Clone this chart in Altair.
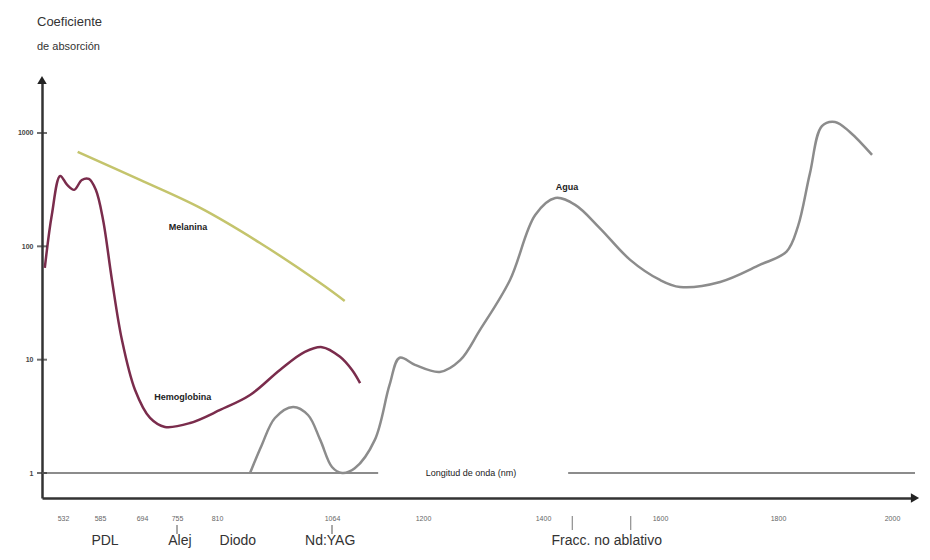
import altair as alt
import pandas as pd

# ---- data (wavelength in nm, absorption coefficient, log scale) ----
agua_nm = [883, 909, 938, 978, 1011, 1038, 1064, 1079, 1098, 1128, 1150, 1165, 1188, 1228, 1262,
           1295, 1345, 1387, 1421, 1455, 1497, 1549, 1600, 1634, 1702, 1769, 1815, 1835, 1856,
           1877, 1900, 1926, 1965]
agua_val = [1.0, 1.77, 3.06, 3.83, 3.25, 1.96, 1.13, 1.0, 1.1, 1.96, 5.98, 10.4, 9.0, 7.8, 9.9,
            18.3, 50.5, 189, 267, 232, 145, 76, 50.5, 43.8, 48.5, 68.5, 90, 150, 440,
            1150, 1253, 1022, 641]

hemo_nm = [506, 516, 528, 538, 548, 559, 569, 579, 593, 616, 642, 676, 708, 734, 773, 817, 883,
           949, 1004, 1042, 1076, 1094, 1106]
hemo_val = [64.5, 189, 418, 348, 315, 385, 393, 315, 171, 50.5, 14.9, 5.4, 3.06, 2.55, 2.76, 3.6,
            4.88, 8.11, 11.7, 12.9, 10.6, 8.1, 6.2]

mel_nm = [553, 689, 787, 905, 1038, 1083]
mel_val = [681, 385, 218, 107, 47.5, 33]

x_ticks = [532, 585, 694, 755, 810, 1064, 1200, 1400, 1600, 1800, 2000]
y_ticks = [1, 10, 100, 1000]

series_names = ["Agua", "Hemoglobina", "Melanina"]
series_colors = ["#8c8c8c", "#7a2c4c", "#c4c46c"]

curve_labels = ["Agua", "Melanina", "Hemoglobina"]
curve_label_nm = [1441, 770, 763]
curve_label_val = [334, 148, 4.69]

laser_names = ["PDL", "Alej", "Diodo", "Nd:YAG", "Fracc. no ablativo"]
laser_nm = [598, 759, 856, 1060, 1509]
laser_marks = [755, 1064]
fracc_marks = [1450, 1550]

base_segments_start = [502, 1443]
base_segments_end = [1133, 2040]
axis_label_text = "Longitud de onda (nm)"
axis_label_nm = 1280

x_domain = [502, 532, 585, 694, 755, 810, 1064, 1200, 1400, 1600, 1800, 2000, 2040]
x_range = [0, 21, 58, 100, 135, 175, 290, 381, 501, 618, 736, 850, 873]
y_domain = [0.602, 2935]

# ---- tables ----
rows = []
for nm, v in zip(agua_nm, agua_val):
    rows.append({"nm": nm, "v": v, "serie": "Agua"})
for nm, v in zip(hemo_nm, hemo_val):
    rows.append({"nm": nm, "v": v, "serie": "Hemoglobina"})
for nm, v in zip(mel_nm, mel_val):
    rows.append({"nm": nm, "v": v, "serie": "Melanina"})
curves = pd.DataFrame(rows)

xs = alt.Scale(type="linear", domain=x_domain, range=x_range, nice=False, zero=False)
ys = alt.Scale(type="log", domain=y_domain, nice=False)

X = alt.X("nm:Q", scale=xs, axis=alt.Axis(values=x_ticks, format="d", ticks=False, grid=False,
                                          labelFontSize=7, labelColor="#666", labelPadding=16,
                                          domainColor="#333", domainWidth=2.5, title=None,
                                          labelFont="Liberation Sans"))
Y = alt.Y("v:Q", scale=ys, axis=alt.Axis(values=y_ticks, format="d", ticks=False, grid=False,
                                         labelFontSize=7, labelColor="#444", labelPadding=9,
                                         domainColor="#333", domainWidth=2.5, title=None,
                                         labelFont="Liberation Sans", labelFontWeight="bold"))

base_df = pd.DataFrame({"nm": base_segments_start, "nm2": base_segments_end, "v": [1, 1]})
baseline = alt.Chart(base_df).mark_rule(color="#8c8c8c", strokeWidth=2).encode(
    x=alt.X("nm:Q", scale=xs), x2="nm2:Q", y=alt.Y("v:Q", scale=ys))

lines = alt.Chart(curves).mark_line(interpolate="catmull-rom", strokeWidth=2.5).encode(
    x=X, y=Y,
    color=alt.Color("serie:N", scale=alt.Scale(domain=series_names, range=series_colors), legend=None),
    detail="serie:N")

lab_df = pd.DataFrame({"nm": curve_label_nm, "v": curve_label_val, "t": curve_labels})
labs = alt.Chart(lab_df).mark_text(fontSize=9, color="#222", font="Liberation Sans",
                                   fontWeight="bold").encode(
    x=alt.X("nm:Q", scale=xs), y=alt.Y("v:Q", scale=ys), text="t:N")

axl_df = pd.DataFrame({"nm": [axis_label_nm], "v": [1], "t": [axis_label_text]})
axl = alt.Chart(axl_df).mark_text(fontSize=9, color="#222", font="Liberation Sans").encode(
    x=alt.X("nm:Q", scale=xs), y=alt.Y("v:Q", scale=ys), text="t:N")

yt_df = pd.DataFrame({"nm": [x_domain[0]] * len(y_ticks), "v": y_ticks})
yticks = alt.Chart(yt_df).mark_tick(orient="horizontal", size=10, thickness=2, color="#333").encode(
    x=alt.X("nm:Q", scale=xs), y=alt.Y("v:Q", scale=ys))

arr_df = pd.DataFrame({"nm": [x_domain[-1], x_domain[0]], "v": [y_domain[0], y_domain[1]],
                       "s": ["triangle-right", "triangle-up"]})
arrows = alt.Chart(arr_df).mark_point(filled=True, size=90, color="#222", opacity=1).encode(
    x=alt.X("nm:Q", scale=xs), y=alt.Y("v:Q", scale=ys),
    shape=alt.Shape("s:N", scale=None))

las_df = pd.DataFrame({"nm": laser_nm, "t": laser_names})
lasers = alt.Chart(las_df).mark_text(fontSize=14, color="#333", font="Liberation Sans").encode(
    x=alt.X("nm:Q", scale=xs), y=alt.value(461), text="t:N")

lm_df = pd.DataFrame({"nm": laser_marks})
lmarks = alt.Chart(lm_df).mark_rule(color="#555", strokeWidth=1).encode(
    x=alt.X("nm:Q", scale=xs), y=alt.value(445), y2=alt.value(454))

fm_df = pd.DataFrame({"nm": fracc_marks})
fmarks = alt.Chart(fm_df).mark_rule(color="#777", strokeWidth=1).encode(
    x=alt.X("nm:Q", scale=xs), y=alt.value(436), y2=alt.value(450))

t1 = alt.Chart(pd.DataFrame({"t": ["Coeficiente"]})).mark_text(
    fontSize=13, color="#333", align="left", font="Liberation Sans").encode(
    x=alt.value(-5), y=alt.value(-58), text="t:N")
t2 = alt.Chart(pd.DataFrame({"t": ["de absorción"]})).mark_text(
    fontSize=11, color="#333", align="left", font="Liberation Sans").encode(
    x=alt.value(-5), y=alt.value(-33), text="t:N")

chart = alt.layer(baseline, lines, labs, axl, yticks, arrows, lasers, lmarks, fmarks, t1, t2).properties(
    width=873, height=418,
    autosize=alt.AutoSizeParams(type="none"),
    padding={"left": 34, "top": 72, "right": 7, "bottom": 53},
    background="white",
).configure_view(stroke=None)

chart.save("out.html", embed_options={"renderer": "svg", "actions": False})
